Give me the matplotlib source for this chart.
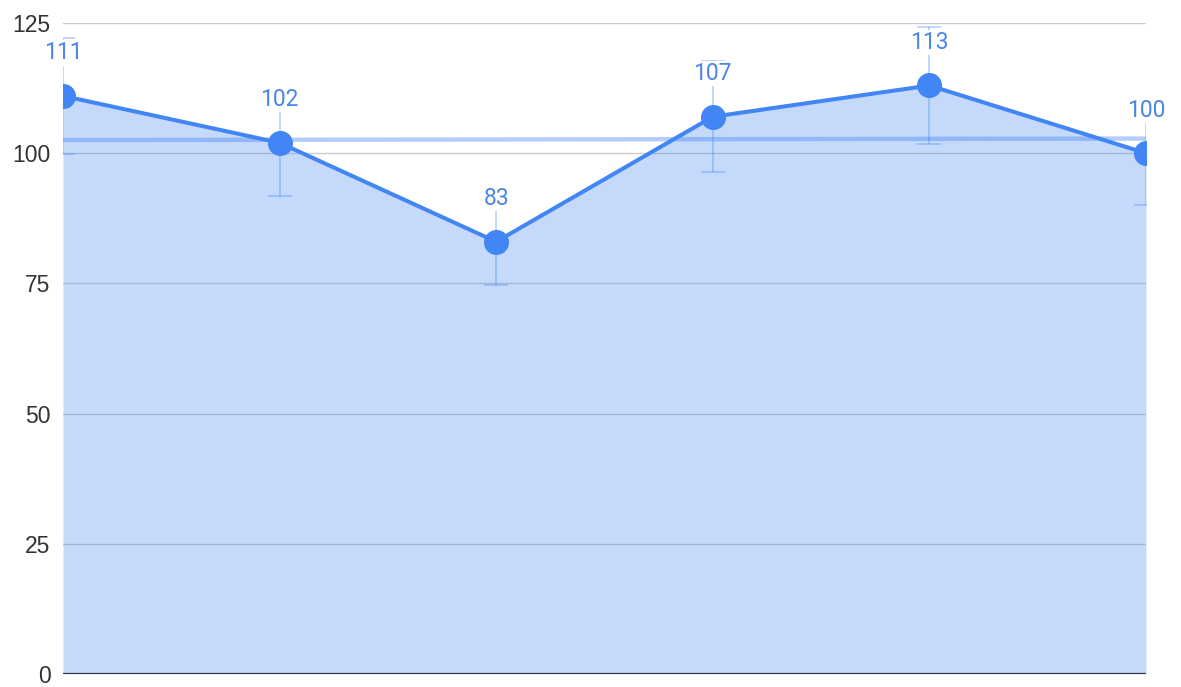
import numpy as np
import matplotlib.pyplot as plt

plt.rcParams['font.family'] = ['Roboto', 'DejaVu Sans']

x = [0, 1, 2, 3, 4, 5]
values = [111, 102, 83, 107, 113, 100]
errors = [v * 0.1 for v in values]  # 10% error bars
yticks = [0, 25, 50, 75, 100, 125]

blue = '#4285f4'

fig = plt.figure(figsize=(11.81, 6.87), dpi=100)
ax = fig.add_axes([63 / 1181, 1 - 674 / 687, (1146 - 63) / 1181, 651 / 687])

ax.set_xlim(0, 5)
ax.set_ylim(0, 125)
ax.set_yticks(yticks)
ax.set_yticklabels([str(t) for t in yticks], family=['Liberation Sans', 'DejaVu Sans'])
ax.set_xticks([])
ax.tick_params(axis='y', length=0, pad=9, labelsize=16.5, labelcolor='#333333')
for s in ax.spines.values():
    s.set_visible(False)
ax.grid(axis='y', color='#cccccc', lw=1)
ax.set_axisbelow(True)

# area fill and baseline
ax.fill_between(x, values, 0, color=blue, alpha=0.3, lw=0, zorder=1)
ax.axhline(0, color='#333333', lw=1.6, zorder=5)

# linear trendline
k, b = np.polyfit(x, values, 1)
xs = np.array([0, 5])
ax.plot(xs, k * xs + b, color=blue, alpha=0.4, lw=3.2, zorder=2, solid_capstyle='butt')

# error bars
ax.errorbar(x, values, yerr=errors, fmt='none', ecolor=blue, alpha=0.35,
            elinewidth=1.3, capsize=8.3, capthick=1.3, zorder=3)

# line + markers
ax.plot(x, values, color=blue, lw=2.9, marker='o', markersize=17, zorder=6)

for xi, v in zip(x, values):
    ax.annotate(str(v), (xi, v), xytext=(0, 31), textcoords='offset points',
                ha='center', va='center', fontsize=16.5, color='#4a86e8',
                bbox=dict(boxstyle='square,pad=0.05', fc='white', ec='none'),
                zorder=7, annotation_clip=False)

plt.savefig('out.png', dpi=100)
